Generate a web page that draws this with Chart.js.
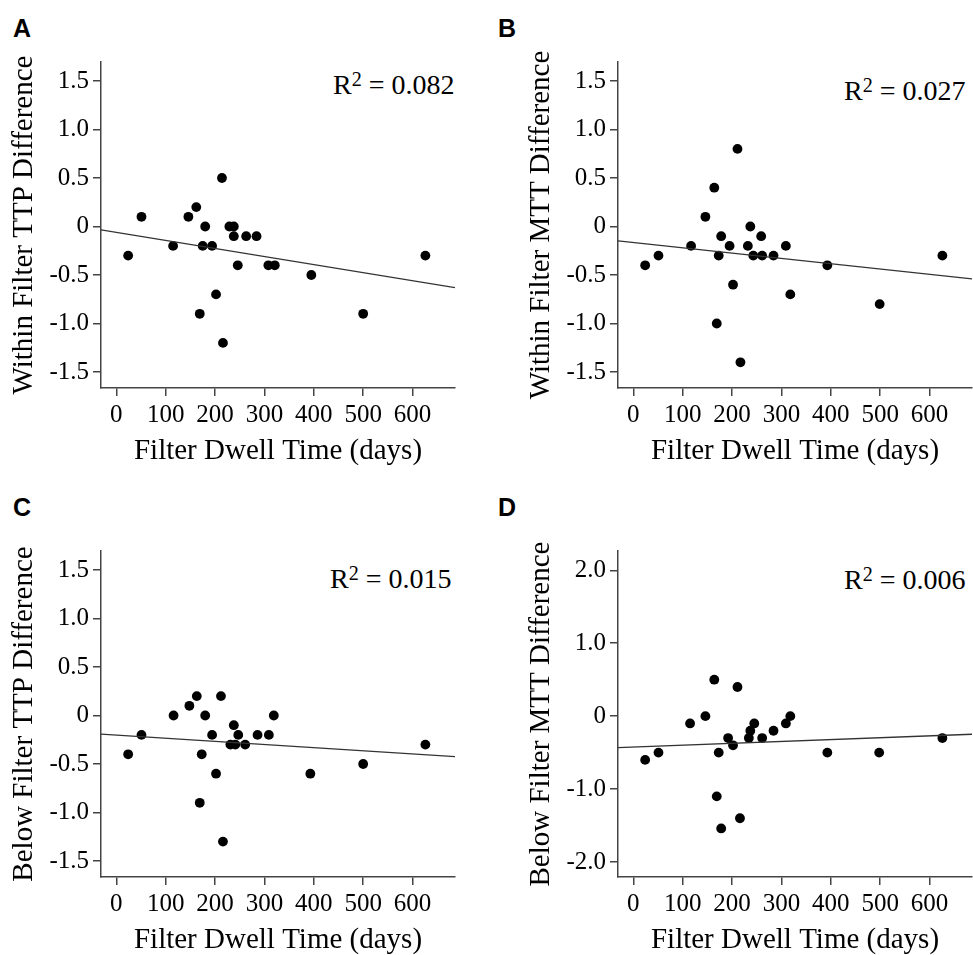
<!DOCTYPE html>
<html>
<head>
<meta charset="utf-8">
<script src="https://cdn.jsdelivr.net/npm/chart.js@4.4.1/dist/chart.umd.min.js"></script>
<style>
  html, body { margin: 0; padding: 0; background: #fff; }
  body { position: relative; width: 973px; height: 955px; overflow: hidden; }
  canvas { position: absolute; }
  .letter { position: absolute; font: bold 25px "Liberation Sans", Arial, sans-serif; line-height: 25px; color: #000; }
  .r2 { position: absolute; font: 28px "Liberation Serif", "Times New Roman", serif; line-height: 28px; color: #000; white-space: nowrap; }
  .r2 span { font-size: 0.72em; position: relative; top: -0.42em; }
</style>
</head>
<body>
<div class="letter" style="left:13px;top:16px">A</div>
<div class="letter" style="left:498px;top:16px">B</div>
<div class="letter" style="left:13px;top:495px">C</div>
<div class="letter" style="left:498px;top:495px">D</div>

<div class="r2" style="left:333px;top:71px">R<span>2</span> = 0.082</div>
<div class="r2" style="left:844px;top:77px">R<span>2</span> = 0.027</div>
<div class="r2" style="left:330px;top:565px">R<span>2</span> = 0.015</div>
<div class="r2" style="left:844px;top:566px">R<span>2</span> = 0.006</div>

<canvas id="chartA" width="460" height="466" style="left:0;top:0"></canvas>
<canvas id="chartB" width="460" height="466" style="left:517px;top:0"></canvas>
<canvas id="chartC" width="460" height="466" style="left:0;top:489px"></canvas>
<canvas id="chartD" width="460" height="466" style="left:517px;top:489px"></canvas>

<script>
// ---- tick labels ----
const xTicks = [0, 100, 200, 300, 400, 500, 600];
const xTickLabels = ['0', '100', '200', '300', '400', '500', '600'];
const yTicksHalf = [-1.5, -1, -0.5, 0, 0.5, 1, 1.5];
const yTickLabelsHalf = ['-1.5', '-1.0', '-0.5', '0', '0.5', '1.0', '1.5'];
const yTicksWide = [-2, -1, 0, 1, 2];
const yTickLabelsWide = ['-2.0', '-1.0', '0', '1.0', '2.0'];

// ---- A: within filter TTP ----
const dwellA = [24, 51, 115, 146, 162, 180, 175, 194, 214, 229, 238, 238, 263, 284, 246, 308, 321, 202, 169, 216, 395, 500, 626];
const ttpWithin = [-0.3, 0.1, -0.2, 0.1, 0.2, 0, -0.2, -0.2, 0.5, 0, 0, -0.1, -0.1, -0.1, -0.4, -0.4, -0.4, -0.7, -0.9, -1.2, -0.5, -0.9, -0.3];

// ---- B: within filter MTT ----
const dwellB = [24, 51, 117, 146, 164, 173, 178, 195, 211, 202, 169, 217, 232, 237, 243, 259, 261, 284, 309, 318, 393, 499, 626];
const mttWithin = [-0.4, -0.3, -0.2, 0.1, 0.4, -0.3, -0.1, -0.2, 0.8, -0.6, -1.0, -1.4, -0.2, 0, -0.3, -0.1, -0.3, -0.3, -0.2, -0.7, -0.4, -0.8, -0.3];

// ---- C: below filter TTP ----
const dwellC = [24, 51, 116, 148, 163, 180, 194, 173, 212, 238, 247, 231, 241, 261, 286, 309, 319, 202, 169, 216, 393, 500, 626];
const ttpBelow = [-0.4, -0.2, 0, 0.1, 0.2, 0, -0.2, -0.4, 0.2, -0.1, -0.2, -0.3, -0.3, -0.3, -0.2, -0.2, 0, -0.6, -0.9, -1.3, -0.6, -0.5, -0.3];

// ---- D: below filter MTT ----
const dwellD = [24, 51, 115, 146, 164, 173, 169, 178, 192, 202, 211, 216, 234, 237, 245, 261, 284, 309, 318, 393, 498, 626];
const mttBelow = [-0.6, -0.5, -0.1, 0, 0.5, -0.5, -1.1, -1.54, -0.3, -0.4, 0.4, -1.4, -0.3, -0.2, -0.1, -0.3, -0.2, -0.1, 0, -0.5, -0.5, -0.3];

// ---- fitted lines (ends read at the axis edges) ----
const fitX = [-31, 686];
const fitA = [-0.034, -0.631];
const fitB = [-0.148, -0.54];
const fitC = [-0.193, -0.424];
const fitD = [-0.432, -0.248];

const SERIF = '"Liberation Serif", "Times New Roman", serif';
const AXIS = '#444';

function pairs(xs, ys) { return xs.map((x, i) => ({ x: x, y: ys[i] })); }

function makePanel(id, xs, ys, fit, yTitle, yTicks, yLabels, yMin, yMax) {
  new Chart(document.getElementById(id), {
    type: 'scatter',
    data: {
      datasets: [
        {
          data: pairs(fitX, fit),
          showLine: true,
          borderColor: '#333',
          borderWidth: 1.3,
          pointRadius: 0,
          fill: false,
        },
        {
          data: pairs(xs, ys),
          backgroundColor: '#000',
          borderWidth: 0,
          pointRadius: 4.9,
        },
      ],
    },
    options: {
      responsive: false,
      animation: false,
      layout: { padding: { left: 10, top: 62, right: 5, bottom: 0 } },
      plugins: { legend: { display: false }, tooltip: { enabled: false } },
      scales: {
        x: {
          type: 'linear',
          min: -31, max: 686,
          afterBuildTicks: (s) => { s.ticks = xTicks.map((v) => ({ value: v })); },
          afterFit: (s) => { s.height = 78; },
          ticks: {
            callback: (v, i) => xTickLabels[i],
            font: { family: SERIF, size: 25 }, color: '#000', padding: 4, maxRotation: 0,
          },
          grid: { drawOnChartArea: false, drawTicks: true, tickLength: 8, color: AXIS, lineWidth: 1.5 },
          border: { display: true, color: AXIS, width: 1.5 },
          title: { display: true, text: 'Filter Dwell Time (days)', color: '#000', padding: 0, font: { family: SERIF, size: 29, lineHeight: 1 } },
        },
        y: {
          type: 'linear',
          min: yMin, max: yMax,
          afterBuildTicks: (s) => { s.ticks = yTicks.map((v) => ({ value: v })); },
          afterFit: (s) => { s.width = 91; },
          ticks: {
            callback: (v, i) => yLabels[i],
            font: { family: SERIF, size: 25 }, color: '#000', padding: 4,
          },
          grid: { drawOnChartArea: false, drawTicks: true, tickLength: 8, color: AXIS, lineWidth: 1.5 },
          border: { display: true, color: AXIS, width: 1.5 },
          title: { display: true, text: yTitle, color: '#000', padding: 0, font: { family: SERIF, size: 29, lineHeight: 1 } },
        },
      },
    },
  });
}

makePanel('chartA', dwellA, ttpWithin, fitA, 'Within Filter TTP Difference', yTicksHalf, yTickLabelsHalf, -1.665, 1.696);
makePanel('chartB', dwellB, mttWithin, fitB, 'Within Filter MTT Difference', yTicksHalf, yTickLabelsHalf, -1.665, 1.696);
makePanel('chartC', dwellC, ttpBelow, fitC, 'Below Filter TTP Difference', yTicksHalf, yTickLabelsHalf, -1.665, 1.696);
makePanel('chartD', dwellD, mttBelow, fitD, 'Below Filter MTT Difference', yTicksWide, yTickLabelsWide, -2.206, 2.265);
</script>
</body>
</html>
